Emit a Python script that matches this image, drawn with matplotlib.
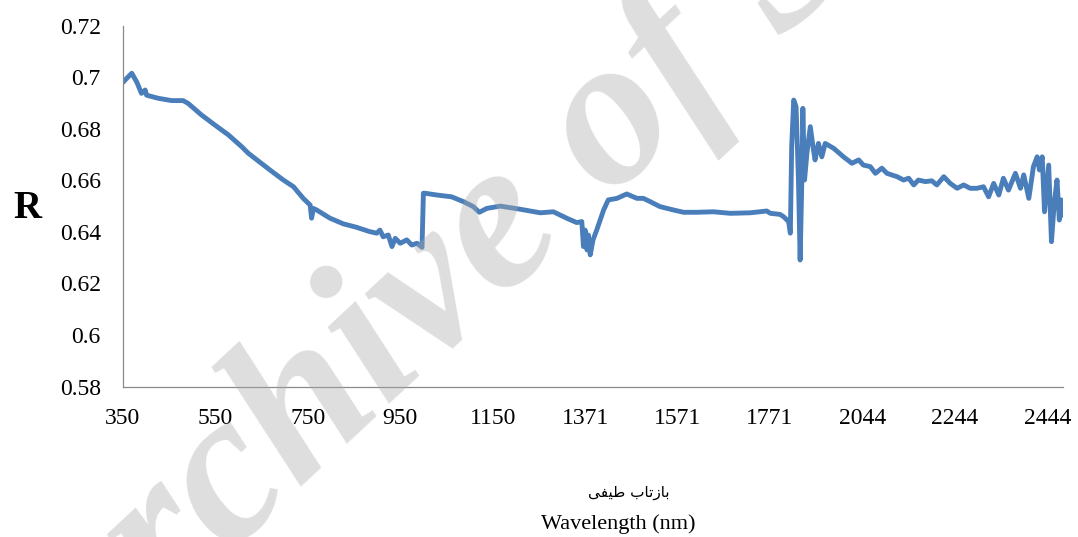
import matplotlib
matplotlib.use('Agg')
import matplotlib.pyplot as plt
import numpy as np

# category axis (Excel style): tick labels every 200 bands
tick_wl = [350, 550, 750, 950, 1150, 1371, 1571, 1771, 2044, 2244, 2444]
tick_pos = [0, 200, 400, 600, 800, 1000, 1200, 1400, 1600, 1800, 2000]
y_ticks = [0.58, 0.60, 0.62, 0.64, 0.66, 0.68, 0.70, 0.72]
y_labels = ['0.58', '0.6', '0.62', '0.64', '0.66', '0.68', '0.7', '0.72']

# spectrum
wavelength = [350, 358, 369, 380, 390, 398, 401, 426, 455, 480, 491, 520, 549, 578,
              607, 621, 668, 697, 719, 740, 755, 758, 762, 769, 798, 827, 855, 884,
              899, 906, 913, 924, 932, 939, 950, 964, 975, 986, 997, 1000, 1003, 1029,
              1061, 1087, 1108, 1121, 1137, 1168, 1215, 1264, 1295, 1327, 1351, 1363,
              1367, 1371, 1375, 1378, 1382, 1388, 1396, 1411, 1421, 1440, 1461, 1483,
              1497, 1512, 1533, 1562, 1584, 1613, 1649, 1685, 1728, 1764, 1772, 1800,
              1811, 1826, 1831, 1835, 1841, 1848, 1855, 1860, 1865, 1868, 1873, 1880,
              1890, 1898, 1904, 1914, 1924, 1934, 1959, 1988, 2013, 2033, 2046, 2061,
              2072, 2086, 2097, 2119, 2133, 2144, 2155, 2165, 2180, 2194, 2205, 2220,
              2234, 2249, 2263, 2277, 2292, 2306, 2317, 2328, 2339, 2349, 2360, 2375,
              2386, 2393, 2404, 2414, 2422, 2427, 2433, 2438, 2447, 2453, 2459, 2465,
              2470, 2474, 2478]
reflectance = [0.698, 0.6995, 0.7015, 0.698, 0.6937, 0.695, 0.693, 0.6918, 0.6909, 0.6909,
               0.6898, 0.6853, 0.6814, 0.6776, 0.6730, 0.6705, 0.6640, 0.6601, 0.6575,
               0.6530, 0.6504, 0.6453, 0.6491, 0.6485, 0.6453, 0.6431, 0.6418, 0.6401,
               0.6395, 0.6407, 0.6381, 0.6388, 0.6343, 0.6375, 0.6356, 0.6369, 0.6349,
               0.6356, 0.6340, 0.6550, 0.6550, 0.6543, 0.6536, 0.6517, 0.6498, 0.6476,
               0.6491, 0.6500, 0.6488, 0.6474, 0.6478, 0.6453, 0.6436, 0.6440, 0.6343,
               0.6407, 0.6330, 0.6388, 0.6311, 0.6369, 0.6407, 0.6485, 0.6524, 0.6530,
               0.6547, 0.6530, 0.6530, 0.6517, 0.6498, 0.6485, 0.6476, 0.6476, 0.6478,
               0.6472, 0.6474, 0.6481, 0.6472, 0.6468, 0.6459, 0.6440, 0.6395, 0.6730,
               0.6911, 0.6885, 0.6601, 0.6291, 0.6601, 0.6879, 0.6601, 0.6705, 0.6808,
               0.6730, 0.6679, 0.6743, 0.6691, 0.6743, 0.6724, 0.6691, 0.6666, 0.6679,
               0.6659, 0.6653, 0.6627, 0.6647, 0.6627, 0.6614, 0.6601, 0.6608, 0.6582,
               0.6601, 0.6595, 0.6598, 0.6582, 0.6614, 0.6588, 0.6569, 0.6582, 0.6569,
               0.6569, 0.6575, 0.6536, 0.6588, 0.6543, 0.6608, 0.6562, 0.6627, 0.6569,
               0.6621, 0.6530, 0.6653, 0.6691, 0.6640, 0.6691, 0.6478, 0.6659, 0.6362,
               0.6511, 0.6601, 0.6446, 0.6524, 0.6465]

# band position on the category axis (bands 1351-1370 and ~1800-1872 removed)
pos = np.interp(wavelength, tick_wl + [2500], tick_pos + [2056])

serif = ['Liberation Serif', 'DejaVu Serif']

fig = plt.figure(figsize=(10.78, 5.37), dpi=100)
ax = fig.add_axes([0.1141, 0.2799, 0.8720, 0.6726])
ax.plot(pos, reflectance, color='#4A7EBB', linewidth=3.5, solid_joinstyle='round')

ax.set_xlim(0, pos[-1])
ax.set_ylim(0.58, 0.72)
ax.set_xticks(tick_pos)
ax.set_xticklabels([str(w) for w in tick_wl], family=serif, fontsize=17)
ax.set_yticks(y_ticks)
ax.set_yticklabels(y_labels, family=serif, fontsize=17)
ax.tick_params(axis='both', length=0)
ax.tick_params(axis='x', pad=15)
ax.tick_params(axis='y', pad=16)
for s in ['top', 'right']:
    ax.spines[s].set_visible(False)
for s in ['left', 'bottom']:
    ax.spines[s].set_color('#898989')
    ax.spines[s].set_linewidth(0.9)

fig.text(27 / 1078, 1 - 208 / 537, 'R', family=serif, fontsize=28, fontweight='bold',
         ha='center', va='center')
# Persian subtitle, written in presentation forms so the letters join
fa_label = '\ufef0\ufed4\ufef4\ufec3 \ufe8f\ufe8e\ufe97\ufeaf\ufe8e\ufe91'
fig.text(629 / 1078, 1 - 492 / 537, fa_label, family=['DejaVu Sans'], fontsize=11,
         ha='center', va='center')
fig.text(618 / 1078, 1 - 524 / 537, 'Wavelength (nm)', family=serif, fontsize=16,
         ha='center', va='center')

# watermark
fig.text(520 / 1078, 1 - 222 / 537, 'Archive of SID', family=serif, fontsize=155,
         fontweight='bold', style='italic', color='#aaaaaa', alpha=0.39, rotation=43,
         ha='center', va='center', rotation_mode='anchor', zorder=10)

fig.savefig('out.png', dpi=100)
